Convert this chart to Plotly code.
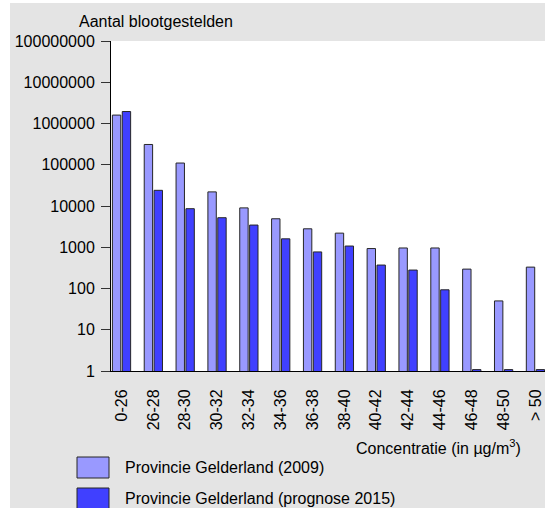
import plotly.graph_objects as go

# Concentration classes (µg/m³) and number of exposed people per class
categories = ["0-26", "26-28", "28-30", "30-32", "32-34", "34-36", "36-38",
              "38-40", "40-42", "42-44", "44-46", "46-48", "48-50", "> 50"]
series_2009_name = "Provincie Gelderland (2009)"
series_2015_name = "Provincie Gelderland (prognose 2015)"
values_2009 = [1600000, 310000, 110000, 22000, 9000, 4900, 2800,
               2200, 930, 960, 960, 295, 50, 330]
values_2015 = [1950000, 24000, 8600, 5200, 3450, 1600, 770,
               1070, 370, 280, 93, 1.08, 1.08, 1.08]
y_tick_values = [1, 10, 100, 1000, 10000, 100000, 1000000, 10000000, 100000000]
y_tick_labels = ["1", "10", "100", "1000", "10000", "100000", "1000000",
                 "10000000", "100000000"]

COLOR_2009 = "#9999ff"
COLOR_2015 = "#4040ff"
OUTLINE = "#262626"
BG = "#e4e4e4"
FONT = "Liberation Sans, Arial, sans-serif"
FS = 16

W, H = 545, 508
L, R, T, B = 111, 0, 41, 137
pw, ph = W - L - R, H - T - B


def px_x(x):
    return (x - L) / pw


def px_y(y):
    return (H - B - y) / ph


fig = go.Figure()
fig.add_trace(go.Bar(x=categories, y=values_2009, name=series_2009_name,
                     marker=dict(color=COLOR_2009, line=dict(color=OUTLINE, width=1))))
fig.add_trace(go.Bar(x=categories, y=values_2015, name=series_2015_name,
                     marker=dict(color=COLOR_2015, line=dict(color=OUTLINE, width=1))))

shapes = [
    # white strips around the grey panel
    dict(type="rect", xref="paper", yref="paper", x0=px_x(0), x1=px_x(10),
         y0=px_y(H), y1=px_y(0), fillcolor="white", line=dict(width=0), layer="above"),
    dict(type="rect", xref="paper", yref="paper", x0=px_x(0), x1=px_x(W),
         y0=px_y(3), y1=px_y(0), fillcolor="white", line=dict(width=0), layer="above"),
]
annotations = [
    dict(text="Aantal blootgestelden", xref="paper", yref="paper",
         x=px_x(77), y=px_y(21), xanchor="left", yanchor="middle",
         showarrow=False, font=dict(family=FONT, size=FS, color="black")),
    dict(text="Concentratie (in µg/m<sup>3</sup>)", xref="paper", yref="paper",
         x=px_x(523), y=px_y(447), xanchor="right", yanchor="middle",
         showarrow=False, font=dict(family=FONT, size=FS, color="black")),
]

# legend drawn as swatches with labels
for i, (name, col) in enumerate([(series_2009_name, COLOR_2009),
                                 (series_2015_name, COLOR_2015)]):
    top = 457 + i * 31
    shapes.append(dict(type="rect", xref="paper", yref="paper",
                       x0=px_x(77), x1=px_x(109), y0=px_y(top + 21), y1=px_y(top),
                       fillcolor=col, line=dict(color=OUTLINE, width=1)))
    annotations.append(dict(text=name, xref="paper", yref="paper",
                            x=px_x(123), y=px_y(top + 10.5), xanchor="left",
                            yanchor="middle", showarrow=False,
                            font=dict(family=FONT, size=FS, color="black")))

fig.update_layout(
    width=W, height=H,
    margin=dict(l=L, r=R, t=T, b=B, pad=0),
    paper_bgcolor=BG, plot_bgcolor="white",
    barmode="group", bargap=0.38, bargroupgap=0.15,
    showlegend=False,
    font=dict(family=FONT, size=FS, color="black"),
    shapes=shapes, annotations=annotations,
)
fig.update_xaxes(type="category", range=[-0.33, 13.3], showline=True,
                 linecolor="black", linewidth=1, ticks="", tickangle=-90,
                 ticklabelstandoff=11, showgrid=False, zeroline=False,
                 tickfont=dict(family=FONT, size=FS, color="black"))
fig.update_yaxes(type="log", range=[0, 8], tickvals=y_tick_values,
                 ticktext=y_tick_labels, ticks="outside", ticklen=9,
                 tickcolor="#333333", showline=True, linecolor="black",
                 linewidth=1, showgrid=False, zeroline=False,
                 ticklabelstandoff=3,
                 tickfont=dict(family=FONT, size=FS, color="black"))

fig.write_html("out.html")
